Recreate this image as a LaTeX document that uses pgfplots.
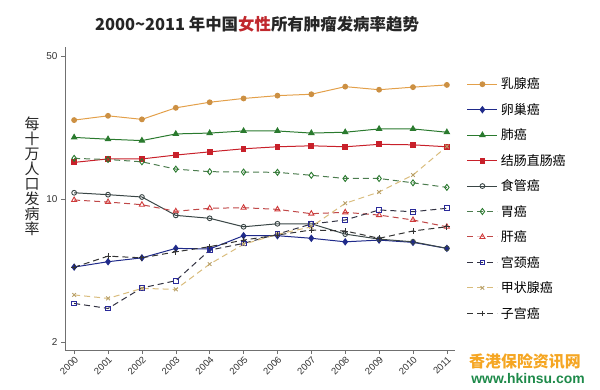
\documentclass[border=0pt]{standalone}
\usepackage{fontspec}
\setmainfont{Liberation Sans}
\newfontfamily\cjk{Noto Sans CJK SC}
\usepackage{pgfplots}
\pgfplotsset{compat=1.18}
\definecolor{cBreast}{HTML}{E3A04A}
\definecolor{cOvary}{HTML}{1F2A8A}
\definecolor{cLung}{HTML}{2A7A2E}
\definecolor{cColo}{HTML}{C8202A}
\definecolor{cEso}{HTML}{3A4646}
\definecolor{cLiver}{HTML}{D03A3A}
\definecolor{cCerv}{HTML}{2A2A9A}
\definecolor{cThy}{HTML}{D9BC7C}
\definecolor{cUter}{HTML}{333333}
\definecolor{cAxis}{HTML}{707070}
\definecolor{cTitleRed}{HTML}{C0282D}
\definecolor{cWmOrange}{HTML}{F5A623}
\definecolor{cWmGreen}{HTML}{1E8A4A}
\begin{document}
\begin{tikzpicture}
\useasboundingbox (0bp,0bp) rectangle (600bp,-390bp);
\begin{axis}[
  at={(65bp,-350bp)}, anchor=south west,
  width=390bp, height=303bp, scale only axis,
  ymode=log, ymin=1.83, ymax=55.3,
  xmin=1999.73, xmax=2011.24,
  axis lines=left, axis line style={-, draw=cAxis, line width=0.8pt},
  tick align=outside, tick pos=left, major tick length=4bp,
  tick style={cAxis, line width=0.6pt},
  ytick={2,10,50}, yticklabels={2,10,50},
  xtick={2000,2001,2002,2003,2004,2005,2006,2007,2008,2009,2010,2011},
  xticklabels={2000,2001,2002,2003,2004,2005,2006,2007,2008,2009,2010,2011},
  minor tick num=0, log ticks with fixed point,
  yticklabel style={font=\fontsize{10}{12}\selectfont, color=black!80},
  xticklabel style={font=\fontsize{9.5}{11}\selectfont, rotate=45, anchor=north east, inner sep=1pt, color=black!80},
  /pgf/number format/assume math mode=true,
  every axis plot/.append style={line width=1pt, mark size=2.4bp},
  legend style={draw=none, fill=none, at={(1.03,0.905)}, anchor=north west,
    font=\cjk\fontsize{13}{15}\selectfont, row sep=9bp, inner sep=0pt,
    nodes={inner xsep=3bp}},
  legend cell align=left,
  legend image code/.code={\draw[mark repeat=2,mark phase=2,#1] plot coordinates {(0bp,0bp) (15bp,0bp) (30bp,0bp)};},
]
% breast
\addplot[color=cBreast, mark=*, mark options={fill=cBreast!90!black, draw=cBreast!90!black}] coordinates {
(2000,24.3) (2001,25.5) (2002,24.5) (2003,27.9) (2004,29.7) (2005,31.0) (2006,32.0) (2007,32.5) (2008,35.4) (2009,34.2) (2010,35.2) (2011,36.1)};
\addlegendentry{乳腺癌}
% ovary
\addplot[color=cOvary, mark=diamond*, mark size=3bp, mark options={fill=cOvary}] coordinates {
(2000,4.65) (2001,4.94) (2002,5.16) (2003,5.74) (2004,5.70) (2005,6.62) (2006,6.62) (2007,6.43) (2008,6.18) (2009,6.30) (2010,6.14) (2011,5.74)};
\addlegendentry{卵巢癌}
% lung
\addplot[color=cLung, mark=triangle*, mark size=3bp, mark options={fill=cLung}] coordinates {
(2000,20.0) (2001,19.6) (2002,19.3) (2003,20.8) (2004,21.0) (2005,21.5) (2006,21.5) (2007,21.0) (2008,21.2) (2009,22.0) (2010,22.0) (2011,21.2)};
\addlegendentry{肺癌}
% colorectal
\addplot[color=cColo, mark=square*, mark options={fill=cColo}] coordinates {
(2000,15.1) (2001,15.7) (2002,15.7) (2003,16.4) (2004,17.0) (2005,17.6) (2006,18.0) (2007,18.2) (2008,18.0) (2009,18.5) (2010,18.4) (2011,18.0)};
\addlegendentry{结肠直肠癌}
% esophagus
\addplot[color=cEso, mark=o, mark options={fill=white, line width=0.9pt}] coordinates {
(2000,10.73) (2001,10.50) (2002,10.23) (2003,8.32) (2004,8.05) (2005,7.32) (2006,7.57) (2007,7.57) (2008,6.74) (2009,6.37) (2010,6.18) (2011,5.74)};
\addlegendentry{食管癌}
% stomach
\addplot[color=cLung!60!gray, dash pattern=on 6bp off 4bp, mark=diamond, mark size=3bp, mark options={solid, draw=cLung, fill=white, line width=0.9pt}] coordinates {
(2000,15.8) (2001,15.6) (2002,15.2) (2003,14.0) (2004,13.6) (2005,13.55) (2006,13.5) (2007,13.06) (2008,12.6) (2009,12.6) (2010,12.0) (2011,11.4)};
\addlegendentry{胃癌}
% liver
\addplot[color=cLiver!80!gray, dash pattern=on 6bp off 4bp, mark=triangle, mark size=3bp, mark options={solid, draw=cLiver, fill=white, line width=0.9pt}] coordinates {
(2000,9.89) (2001,9.67) (2002,9.38) (2003,8.71) (2004,9.01) (2005,9.07) (2006,8.90) (2007,8.48) (2008,8.61) (2009,8.35) (2010,7.90) (2011,7.32)};
\addlegendentry{肝癌}
% cervix
\addplot[color=cUter!85!cCerv, dash pattern=on 6bp off 4bp, mark=square, mark options={solid, draw=cCerv, fill=white, line width=0.9pt}] coordinates {
(2000,3.09) (2001,2.92) (2002,3.68) (2003,3.99) (2004,5.63) (2005,6.07) (2006,6.74) (2007,7.55) (2008,7.90) (2009,8.84) (2010,8.67) (2011,9.01)};
\addlegendentry{宫颈癌}
% thyroid
\addplot[color=cThy, dash pattern=on 6bp off 4bp, mark=x, mark size=2.6bp, mark options={solid, draw=cThy!85!black, line width=0.9pt}] coordinates {
(2000,3.40) (2001,3.27) (2002,3.66) (2003,3.62) (2004,4.81) (2005,6.01) (2006,6.72) (2007,7.32) (2008,9.53) (2009,10.82) (2010,13.1) (2011,18.06)};
\addlegendentry{甲状腺癌}
% uterus
\addplot[color=cUter, dash pattern=on 6bp off 4bp, mark=+, mark size=2.8bp, mark options={solid, line width=0.9pt}] coordinates {
(2000,4.64) (2001,5.26) (2002,5.16) (2003,5.52) (2004,5.85) (2005,6.30) (2006,6.67) (2007,7.06) (2008,6.98) (2009,6.43) (2010,6.98) (2011,7.32)};
\addlegendentry{子宫癌}
\end{axis}
\node[font=\cjk\bfseries\fontsize{16.5}{18}\selectfont, text=black!85] at (257bp,-24bp)
  {2000\textasciitilde2011 年中国{\color{cTitleRed}女性}所有肿瘤发病率趋势};
\node[font=\cjk\fontsize{15}{15}\selectfont, align=center, text=black!85] at (32bp,-176bp)
  {每\\十\\万\\人\\口\\发\\病\\率};
\node[font=\cjk\bfseries\fontsize{16}{18}\selectfont, text=cWmOrange] at (525bp,-361bp) {香港保险资讯网};
\node[font=\bfseries\fontsize{14}{16}\selectfont, text=cWmGreen] at (528bp,-379bp) {www.hkinsu.com};
\end{tikzpicture}
\end{document}
